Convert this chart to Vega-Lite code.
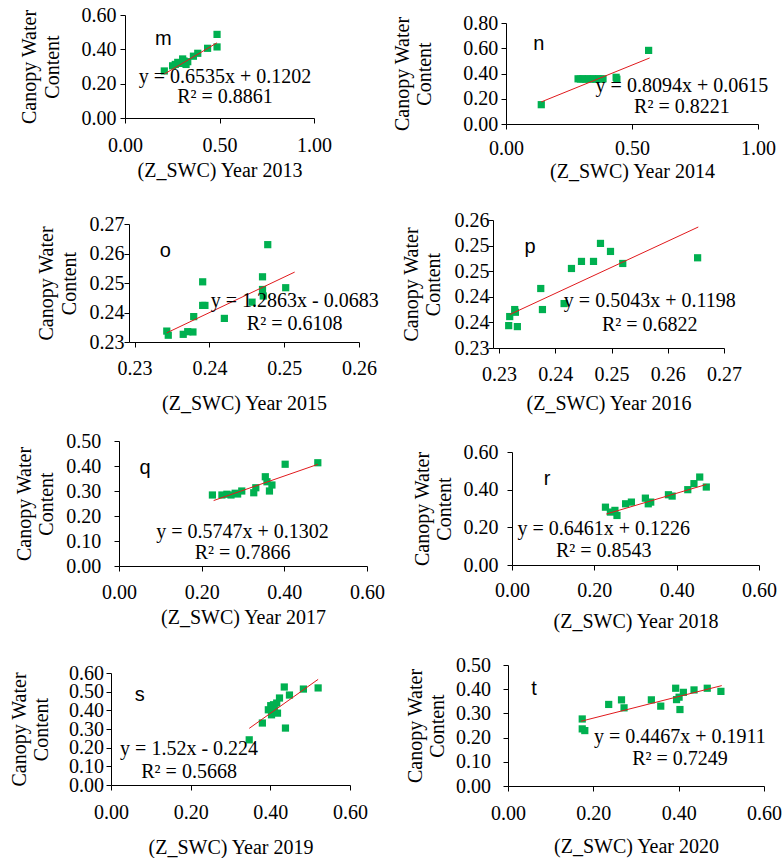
{
  "$schema": "https://vega.github.io/schema/vega-lite/v6.json",
  "autosize": {"type": "pad"},
  "padding": {"left": 0, "top": 0, "right": 0, "bottom": 0},
  "background": "white",
  "config": {
    "view": {"stroke": null},
    "style": {"guide-label": {"font": "Liberation Serif", "fontSize": 20, "fill": "#000"}, "guide-title": {"font": "Liberation Serif", "fontSize": 20, "fontWeight": "normal", "fill": "#000"}},
    "axis": {
      "grid": false, "domainColor": "#000", "tickColor": "#000", "tickSize": 5,
      "labelFont": "Liberation Serif", "labelFontSize": 20, "labelColor": "#000",
      "titleFont": "Liberation Serif", "titleFontSize": 20, "titleFontWeight": "normal", "titleColor": "#000",
      "titleLineHeight": 22.5, "labelFlush": false, "labelOverlap": false
    },
    "axisX": {"labelFont": "Liberation Serif", "titleFont": "Liberation Serif"},
    "axisY": {"labelFont": "Liberation Serif", "titleFont": "Liberation Serif"},
    "text": {"color": "#000"}
  },
  "datasets": {
    "pts": [
      {"panel":"m","x":0.208,"y":0.274},{"panel":"m","x":0.252,"y":0.304},{"panel":"m","x":0.266,"y":0.312},{"panel":"m","x":0.279,"y":0.324},{"panel":"m","x":0.292,"y":0.318},{"panel":"m","x":0.305,"y":0.344},{"panel":"m","x":0.312,"y":0.332},{"panel":"m","x":0.323,"y":0.312},{"panel":"m","x":0.332,"y":0.328},{"panel":"m","x":0.362,"y":0.36},{"panel":"m","x":0.385,"y":0.377},{"panel":"m","x":0.437,"y":0.406},{"panel":"m","x":0.487,"y":0.487},{"panel":"m","x":0.487,"y":0.414},
      {"panel":"n","x":0.14,"y":0.153},{"panel":"n","x":0.286,"y":0.358},{"panel":"n","x":0.295,"y":0.356},{"panel":"n","x":0.305,"y":0.358},{"panel":"n","x":0.315,"y":0.355},{"panel":"n","x":0.325,"y":0.358},{"panel":"n","x":0.335,"y":0.356},{"panel":"n","x":0.345,"y":0.358},{"panel":"n","x":0.355,"y":0.355},{"panel":"n","x":0.365,"y":0.358},{"panel":"n","x":0.375,"y":0.356},{"panel":"n","x":0.385,"y":0.358},{"panel":"n","x":0.437,"y":0.37},{"panel":"n","x":0.44,"y":0.355},{"panel":"n","x":0.566,"y":0.583},
      {"panel":"o","x":0.2343,"y":0.2337},{"panel":"o","x":0.2345,"y":0.2323},{"panel":"o","x":0.2365,"y":0.2326},{"panel":"o","x":0.2371,"y":0.2335},{"panel":"o","x":0.2378,"y":0.2334},{"panel":"o","x":0.2379,"y":0.2386},{"panel":"o","x":0.2391,"y":0.2504},{"panel":"o","x":0.2391,"y":0.2424},{"panel":"o","x":0.2394,"y":0.2424},{"panel":"o","x":0.242,"y":0.238},{"panel":"o","x":0.2457,"y":0.2435},{"panel":"o","x":0.2471,"y":0.2521},{"panel":"o","x":0.2471,"y":0.2478},{"panel":"o","x":0.2472,"y":0.2456},{"panel":"o","x":0.2478,"y":0.263},{"panel":"o","x":0.2502,"y":0.2484},
      {"panel":"p","x":0.23172,"y":0.23437},{"panel":"p","x":0.2319,"y":0.23614},{"panel":"p","x":0.23279,"y":0.23751},{"panel":"p","x":0.23291,"y":0.23698},{"panel":"p","x":0.23326,"y":0.23418},{"panel":"p","x":0.23742,"y":0.24162},{"panel":"p","x":0.23772,"y":0.23751},{"panel":"p","x":0.24157,"y":0.23868},{"panel":"p","x":0.24288,"y":0.24553},{"panel":"p","x":0.24466,"y":0.24691},{"panel":"p","x":0.2468,"y":0.24691},{"panel":"p","x":0.24804,"y":0.25043},{"panel":"p","x":0.24982,"y":0.24886},{"panel":"p","x":0.252,"y":0.24651},{"panel":"p","x":0.26531,"y":0.24762},
      {"panel":"q","x":0.226,"y":0.284},{"panel":"q","x":0.249,"y":0.284},{"panel":"q","x":0.261,"y":0.287},{"panel":"q","x":0.271,"y":0.284},{"panel":"q","x":0.281,"y":0.291},{"panel":"q","x":0.287,"y":0.288},{"panel":"q","x":0.297,"y":0.3},{"panel":"q","x":0.326,"y":0.293},{"panel":"q","x":0.331,"y":0.313},{"panel":"q","x":0.354,"y":0.357},{"panel":"q","x":0.358,"y":0.337},{"panel":"q","x":0.364,"y":0.3},{"panel":"q","x":0.37,"y":0.324},{"panel":"q","x":0.402,"y":0.407},{"panel":"q","x":0.481,"y":0.413},
      {"panel":"r","x":0.227,"y":0.307},{"panel":"r","x":0.239,"y":0.281},{"panel":"r","x":0.25,"y":0.29},{"panel":"r","x":0.255,"y":0.263},{"panel":"r","x":0.276,"y":0.325},{"panel":"r","x":0.29,"y":0.334},{"panel":"r","x":0.324,"y":0.355},{"panel":"r","x":0.331,"y":0.325},{"panel":"r","x":0.337,"y":0.334},{"panel":"r","x":0.38,"y":0.373},{"panel":"r","x":0.389,"y":0.366},{"panel":"r","x":0.427,"y":0.4},{"panel":"r","x":0.442,"y":0.432},{"panel":"r","x":0.456,"y":0.467},{"panel":"r","x":0.472,"y":0.414},
      {"panel":"s","x":0.347,"y":0.242},{"panel":"s","x":0.38,"y":0.332},{"panel":"s","x":0.395,"y":0.403},{"panel":"s","x":0.401,"y":0.425},{"panel":"s","x":0.403,"y":0.376},{"panel":"s","x":0.408,"y":0.43},{"panel":"s","x":0.41,"y":0.41},{"panel":"s","x":0.416,"y":0.439},{"panel":"s","x":0.418,"y":0.385},{"panel":"s","x":0.423,"y":0.466},{"panel":"s","x":0.435,"y":0.525},{"panel":"s","x":0.438,"y":0.305},{"panel":"s","x":0.448,"y":0.482},{"panel":"s","x":0.483,"y":0.514},{"panel":"s","x":0.52,"y":0.52},
      {"panel":"t","x":0.174,"y":0.277},{"panel":"t","x":0.174,"y":0.236},{"panel":"t","x":0.18,"y":0.229},{"panel":"t","x":0.236,"y":0.337},{"panel":"t","x":0.266,"y":0.356},{"panel":"t","x":0.272,"y":0.323},{"panel":"t","x":0.336,"y":0.356},{"panel":"t","x":0.358,"y":0.33},{"panel":"t","x":0.393,"y":0.404},{"panel":"t","x":0.395,"y":0.357},{"panel":"t","x":0.401,"y":0.367},{"panel":"t","x":0.403,"y":0.316},{"panel":"t","x":0.411,"y":0.387},{"panel":"t","x":0.436,"y":0.397},{"panel":"t","x":0.467,"y":0.404},{"panel":"t","x":0.499,"y":0.391}
    ],
    "lines": [
      {"panel":"m","x":0.208,"y":0.256},{"panel":"m","x":0.487,"y":0.438},
      {"panel":"n","x":0.14,"y":0.175},{"panel":"n","x":0.57,"y":0.523},
      {"panel":"o","x":0.2343,"y":0.2331},{"panel":"o","x":0.2514,"y":0.2537},
      {"panel":"p","x":0.2319,"y":0.23653},{"panel":"p","x":0.26543,"y":0.25363},
      {"panel":"q","x":0.229,"y":0.2618},{"panel":"q","x":0.481,"y":0.4066},
      {"panel":"r","x":0.229,"y":0.2706},{"panel":"r","x":0.472,"y":0.4276},
      {"panel":"s","x":0.347,"y":0.3034},{"panel":"s","x":0.52,"y":0.566},
      {"panel":"t","x":0.171,"y":0.2675},{"panel":"t","x":0.501,"y":0.4149}
    ],
    "ann": [
      {"panel":"m","kind":"eq","x":0.529,"y":0.2416,"label":"y = 0.6535x + 0.1202"},{"panel":"m","kind":"eq","x":0.529,"y":0.125,"label":"R² = 0.8861"},{"panel":"m","kind":"letter","x":0.203,"y":0.459,"label":"m"},
      {"panel":"n","kind":"eq","x":0.698,"y":0.304,"label":"y = 0.8094x + 0.0615"},{"panel":"n","kind":"eq","x":0.698,"y":0.138,"label":"R² = 0.8221"},{"panel":"n","kind":"letter","x":0.13,"y":0.636,"label":"n"},
      {"panel":"o","kind":"eq","x":0.2514,"y":0.2439,"label":"y = 1.2863x - 0.0683"},{"panel":"o","kind":"eq","x":0.2514,"y":0.236,"label":"R² = 0.6108"},{"panel":"o","kind":"letter","x":0.2341,"y":0.261,"label":"o"},
      {"panel":"p","kind":"eq","x":0.2568,"y":0.23914,"label":"y = 0.5043x + 0.1198"},{"panel":"p","kind":"eq","x":0.2568,"y":0.23457,"label":"R² = 0.6822"},{"panel":"p","kind":"letter","x":0.2355,"y":0.2497,"label":"p"},
      {"panel":"q","kind":"eq","x":0.299,"y":0.137,"label":"y = 0.5747x + 0.1302"},{"panel":"q","kind":"eq","x":0.299,"y":0.051,"label":"R² = 0.7866"},{"panel":"q","kind":"letter","x":0.063,"y":0.391,"label":"q"},
      {"panel":"r","kind":"eq","x":0.223,"y":0.192,"label":"y = 0.6461x + 0.1226"},{"panel":"r","kind":"eq","x":0.223,"y":0.076,"label":"R² = 0.8543"},{"panel":"r","kind":"letter","x":0.085,"y":0.455,"label":"r"},
      {"panel":"s","kind":"eq","x":0.196,"y":0.192,"label":"y = 1.52x - 0.224"},{"panel":"s","kind":"eq","x":0.196,"y":0.072,"label":"R² = 0.5668"},{"panel":"s","kind":"letter","x":0.072,"y":0.484,"label":"s"},
      {"panel":"t","kind":"eq","x":0.403,"y":0.202,"label":"y = 0.4467x + 0.1911"},{"panel":"t","kind":"eq","x":0.403,"y":0.113,"label":"R² = 0.7249"},{"panel":"t","kind":"letter","x":0.061,"y":0.401,"label":"t"}
    ],
    "none": []
  },
  "spacing": 0,
  "vconcat": [
    {"spacing": 0, "hconcat": [
      {"width": 18.7, "height": 1, "data": {"name": "none"}, "mark": "point", "view": {"fill": "transparent", "stroke": null}},
      {"spacing": 0, "vconcat": [
        {"width": 1, "height": 5, "data": {"name": "none"}, "mark": "point", "view": {"fill": "transparent", "stroke": null}},
        {"width": 189, "height": 103,
         "encoding": {
           "x": {"field": "x", "type": "quantitative", "scale": {"domain": [0, 1], "nice": false, "zero": false}, "axis": {"values": [0, 0.5, 1], "format": ".2f", "title": "(Z_SWC) Year 2013", "labelPadding": 12.5, "titlePadding": 5}},
           "y": {"field": "y", "type": "quantitative", "scale": {"domain": [0, 0.6], "nice": false, "zero": false}, "axis": {"values": [0, 0.2, 0.4, 0.6], "format": ".2f", "title": ["Canopy Water", "Content"], "labelPadding": 4, "titlePadding": 18.8}}
         },
         "layer": [
           {"data": {"name": "pts"}, "transform": [{"filter": "datum.panel === 'm'"}], "mark": {"type": "square", "size": 52, "color": "#00B050", "opacity": 1}},
           {"data": {"name": "lines"}, "transform": [{"filter": "datum.panel === 'm'"}], "mark": {"type": "line", "color": "#E0191C", "strokeWidth": 1}},
           {"data": {"name": "ann"}, "transform": [{"filter": "datum.panel === 'm' && datum.kind === 'eq'"}], "mark": {"type": "text", "font": "Liberation Serif", "fontSize": 20, "baseline": "middle", "color": "#000"}, "encoding": {"text": {"field": "label"}}},
           {"data": {"name": "ann"}, "transform": [{"filter": "datum.panel === 'm' && datum.kind === 'letter'"}], "mark": {"type": "text", "font": "Liberation Sans", "fontSize": 20, "baseline": "middle", "color": "#000"}, "encoding": {"text": {"field": "label"}}}
         ]}
      ]},
      {"width": 59.8, "height": 1, "data": {"name": "none"}, "mark": "point", "view": {"fill": "transparent", "stroke": null}},
      {"spacing": 0, "vconcat": [
        {"width": 1, "height": 12.7, "data": {"name": "none"}, "mark": "point", "view": {"fill": "transparent", "stroke": null}},
        {"width": 252, "height": 101,
         "encoding": {
           "x": {"field": "x", "type": "quantitative", "scale": {"domain": [0, 1], "nice": false, "zero": false}, "axis": {"values": [0, 0.5, 1], "format": ".2f", "title": "(Z_SWC) Year 2014", "labelPadding": 9, "titlePadding": 3.5}},
           "y": {"field": "y", "type": "quantitative", "scale": {"domain": [0, 0.8], "nice": false, "zero": false}, "axis": {"values": [0, 0.2, 0.4, 0.6, 0.8], "format": ".2f", "title": ["Canopy Water", "Content"], "labelPadding": 3.3, "titlePadding": 28}}
         },
         "layer": [
           {"data": {"name": "pts"}, "transform": [{"filter": "datum.panel === 'n'"}], "mark": {"type": "square", "size": 52, "color": "#00B050", "opacity": 1}},
           {"data": {"name": "lines"}, "transform": [{"filter": "datum.panel === 'n'"}], "mark": {"type": "line", "color": "#E0191C", "strokeWidth": 1}},
           {"data": {"name": "ann"}, "transform": [{"filter": "datum.panel === 'n' && datum.kind === 'eq'"}], "mark": {"type": "text", "font": "Liberation Serif", "fontSize": 20, "baseline": "middle", "color": "#000"}, "encoding": {"text": {"field": "label"}}},
           {"data": {"name": "ann"}, "transform": [{"filter": "datum.panel === 'n' && datum.kind === 'letter'"}], "mark": {"type": "text", "font": "Liberation Sans", "fontSize": 20, "baseline": "middle", "color": "#000"}, "encoding": {"text": {"field": "label"}}}
         ]}
      ]}
    ]},
    {"width": 1, "height": 26.8, "data": {"name": "none"}, "mark": "point", "view": {"fill": "transparent", "stroke": null}},
    {"spacing": 0, "hconcat": [
      {"width": 35.3, "height": 1, "data": {"name": "none"}, "mark": "point", "view": {"fill": "transparent", "stroke": null}},
      {"spacing": 0, "vconcat": [
        {"width": 1, "height": 4.7, "data": {"name": "none"}, "mark": "point", "view": {"fill": "transparent", "stroke": null}},
        {"width": 230, "height": 118,
         "encoding": {
           "x": {"field": "x", "type": "quantitative", "scale": {"domain": [0.22925, 0.26], "nice": false, "zero": false}, "axis": {"values": [0.23, 0.24, 0.25, 0.26], "format": ".2f", "title": "(Z_SWC)  Year 2015", "labelPadding": 11, "titlePadding": 15.5}},
           "y": {"field": "y", "type": "quantitative", "scale": {"domain": [0.23, 0.27], "nice": false, "zero": false}, "axis": {"values": [0.23, 0.24, 0.25, 0.26, 0.27], "format": ".2f", "title": ["Canopy Water", "Content"], "labelPadding": 0, "titlePadding": 9.9}}
         },
         "layer": [
           {"data": {"name": "pts"}, "transform": [{"filter": "datum.panel === 'o'"}], "mark": {"type": "square", "size": 52, "color": "#00B050", "opacity": 1}},
           {"data": {"name": "lines"}, "transform": [{"filter": "datum.panel === 'o'"}], "mark": {"type": "line", "color": "#E0191C", "strokeWidth": 1}},
           {"data": {"name": "ann"}, "transform": [{"filter": "datum.panel === 'o' && datum.kind === 'eq'"}], "mark": {"type": "text", "font": "Liberation Serif", "fontSize": 20, "baseline": "middle", "color": "#000"}, "encoding": {"text": {"field": "label"}}},
           {"data": {"name": "ann"}, "transform": [{"filter": "datum.panel === 'o' && datum.kind === 'letter'"}], "mark": {"type": "text", "font": "Liberation Sans", "fontSize": 20, "baseline": "middle", "color": "#000"}, "encoding": {"text": {"field": "label"}}}
         ]}
      ]},
      {"width": 21.4, "height": 1, "data": {"name": "none"}, "mark": "point", "view": {"fill": "transparent", "stroke": null}},
      {"spacing": 0, "vconcat": [
        {"width": 1, "height": 1, "data": {"name": "none"}, "mark": "point", "view": {"fill": "transparent", "stroke": null}},
        {"width": 231, "height": 128,
         "encoding": {
           "x": {"field": "x", "type": "quantitative", "scale": {"domain": [0.22893, 0.27], "nice": false, "zero": false}, "axis": {"values": [0.23, 0.24, 0.25, 0.26, 0.27], "format": ".2f", "title": "(Z_SWC) Year 2016", "labelPadding": 11, "titlePadding": 9.8}},
           "y": {"field": "y", "type": "quantitative", "scale": {"domain": [0.23, 0.255], "nice": false, "zero": false}, "axis": {"values": [0.23, 0.235, 0.24, 0.245, 0.25, 0.255], "labelExpr": "format(datum.value + 0.0001, '.2f')", "title": ["Canopy Water", "Content"], "labelPadding": -1, "titlePadding": 10.5}}
         },
         "layer": [
           {"data": {"name": "pts"}, "transform": [{"filter": "datum.panel === 'p'"}], "mark": {"type": "square", "size": 52, "color": "#00B050", "opacity": 1}},
           {"data": {"name": "lines"}, "transform": [{"filter": "datum.panel === 'p'"}], "mark": {"type": "line", "color": "#E0191C", "strokeWidth": 1}},
           {"data": {"name": "ann"}, "transform": [{"filter": "datum.panel === 'p' && datum.kind === 'eq'"}], "mark": {"type": "text", "font": "Liberation Serif", "fontSize": 20, "baseline": "middle", "color": "#000"}, "encoding": {"text": {"field": "label"}}},
           {"data": {"name": "ann"}, "transform": [{"filter": "datum.panel === 'p' && datum.kind === 'letter'"}], "mark": {"type": "text", "font": "Liberation Sans", "fontSize": 20, "baseline": "middle", "color": "#000"}, "encoding": {"text": {"field": "label"}}}
         ]}
      ]}
    ]},
    {"width": 1, "height": 15.5, "data": {"name": "none"}, "mark": "point", "view": {"fill": "transparent", "stroke": null}},
    {"spacing": 0, "hconcat": [
      {"width": 13.7, "height": 1, "data": {"name": "none"}, "mark": "point", "view": {"fill": "transparent", "stroke": null}},
      {"spacing": 0, "vconcat": [
        {"width": 1, "height": 1, "data": {"name": "none"}, "mark": "point", "view": {"fill": "transparent", "stroke": null}},
        {"width": 248, "height": 125,
         "encoding": {
           "x": {"field": "x", "type": "quantitative", "scale": {"domain": [0, 0.6], "nice": false, "zero": false}, "axis": {"values": [0, 0.2, 0.4, 0.6], "format": ".2f", "title": "(Z_SWC) Year 2017", "labelPadding": 11.5, "titlePadding": 5}},
           "y": {"field": "y", "type": "quantitative", "scale": {"domain": [0, 0.5], "nice": false, "zero": false}, "axis": {"values": [0, 0.1, 0.2, 0.3, 0.4, 0.5], "format": ".2f", "title": ["Canopy Water", "Content"], "labelPadding": 13.3, "titlePadding": 8.8}}
         },
         "layer": [
           {"data": {"name": "pts"}, "transform": [{"filter": "datum.panel === 'q'"}], "mark": {"type": "square", "size": 52, "color": "#00B050", "opacity": 1}},
           {"data": {"name": "lines"}, "transform": [{"filter": "datum.panel === 'q'"}], "mark": {"type": "line", "color": "#E0191C", "strokeWidth": 1}},
           {"data": {"name": "ann"}, "transform": [{"filter": "datum.panel === 'q' && datum.kind === 'eq'"}], "mark": {"type": "text", "font": "Liberation Serif", "fontSize": 20, "baseline": "middle", "color": "#000"}, "encoding": {"text": {"field": "label"}}},
           {"data": {"name": "ann"}, "transform": [{"filter": "datum.panel === 'q' && datum.kind === 'letter'"}], "mark": {"type": "text", "font": "Liberation Sans", "fontSize": 20, "baseline": "middle", "color": "#000"}, "encoding": {"text": {"field": "label"}}}
         ]}
      ]},
      {"width": 26.5, "height": 1, "data": {"name": "none"}, "mark": "point", "view": {"fill": "transparent", "stroke": null}},
      {"spacing": 0, "vconcat": [
        {"width": 1, "height": 11.7, "data": {"name": "none"}, "mark": "point", "view": {"fill": "transparent", "stroke": null}},
        {"width": 247, "height": 113,
         "encoding": {
           "x": {"field": "x", "type": "quantitative", "scale": {"domain": [0, 0.6], "nice": false, "zero": false}, "axis": {"values": [0, 0.2, 0.4, 0.6], "format": ".2f", "title": "(Z_SWC) Year 2018", "labelPadding": 10, "titlePadding": 11.4}},
           "y": {"field": "y", "type": "quantitative", "scale": {"domain": [0, 0.6], "nice": false, "zero": false}, "axis": {"values": [0, 0.2, 0.4, 0.6], "format": ".2f", "title": ["Canopy Water", "Content"], "labelPadding": 9, "titlePadding": 8.2}}
         },
         "layer": [
           {"data": {"name": "pts"}, "transform": [{"filter": "datum.panel === 'r'"}], "mark": {"type": "square", "size": 52, "color": "#00B050", "opacity": 1}},
           {"data": {"name": "lines"}, "transform": [{"filter": "datum.panel === 'r'"}], "mark": {"type": "line", "color": "#E0191C", "strokeWidth": 1}},
           {"data": {"name": "ann"}, "transform": [{"filter": "datum.panel === 'r' && datum.kind === 'eq'"}], "mark": {"type": "text", "font": "Liberation Serif", "fontSize": 20, "baseline": "middle", "color": "#000"}, "encoding": {"text": {"field": "label"}}},
           {"data": {"name": "ann"}, "transform": [{"filter": "datum.panel === 'r' && datum.kind === 'letter'"}], "mark": {"type": "text", "font": "Liberation Sans", "fontSize": 20, "baseline": "middle", "color": "#000"}, "encoding": {"text": {"field": "label"}}}
         ]}
      ]}
    ]},
    {"width": 1, "height": 21.6, "data": {"name": "none"}, "mark": "point", "view": {"fill": "transparent", "stroke": null}},
    {"spacing": 0, "hconcat": [
      {"width": 8.7, "height": 1, "data": {"name": "none"}, "mark": "point", "view": {"fill": "transparent", "stroke": null}},
      {"spacing": 0, "vconcat": [
        {"width": 1, "height": 8.3, "data": {"name": "none"}, "mark": "point", "view": {"fill": "transparent", "stroke": null}},
        {"width": 239, "height": 112,
         "encoding": {
           "x": {"field": "x", "type": "quantitative", "scale": {"domain": [0, 0.6], "nice": false, "zero": false}, "axis": {"values": [0, 0.2, 0.4, 0.6], "format": ".2f", "title": "(Z_SWC) Year 2019", "labelPadding": 12.5, "titlePadding": 15}},
           "y": {"field": "y", "type": "quantitative", "scale": {"domain": [0, 0.6], "nice": false, "zero": false}, "axis": {"values": [0, 0.1, 0.2, 0.3, 0.4, 0.5, 0.6], "format": ".2f", "title": ["Canopy Water", "Content"], "labelPadding": 2.4, "titlePadding": 17}}
         },
         "layer": [
           {"data": {"name": "pts"}, "transform": [{"filter": "datum.panel === 's'"}], "mark": {"type": "square", "size": 52, "color": "#00B050", "opacity": 1}},
           {"data": {"name": "lines"}, "transform": [{"filter": "datum.panel === 's'"}], "mark": {"type": "line", "color": "#E0191C", "strokeWidth": 1}},
           {"data": {"name": "ann"}, "transform": [{"filter": "datum.panel === 's' && datum.kind === 'eq'"}], "mark": {"type": "text", "font": "Liberation Serif", "fontSize": 20, "baseline": "middle", "color": "#000"}, "encoding": {"text": {"field": "label"}}},
           {"data": {"name": "ann"}, "transform": [{"filter": "datum.panel === 's' && datum.kind === 'letter'"}], "mark": {"type": "text", "font": "Liberation Sans", "fontSize": 20, "baseline": "middle", "color": "#000"}, "encoding": {"text": {"field": "label"}}}
         ]}
      ]},
      {"width": 36.2, "height": 1, "data": {"name": "none"}, "mark": "point", "view": {"fill": "transparent", "stroke": null}},
      {"spacing": 0, "vconcat": [
        {"width": 1, "height": 1, "data": {"name": "none"}, "mark": "point", "view": {"fill": "transparent", "stroke": null}},
        {"width": 256, "height": 121,
         "encoding": {
           "x": {"field": "x", "type": "quantitative", "scale": {"domain": [0, 0.6], "nice": false, "zero": false}, "axis": {"values": [0, 0.2, 0.4, 0.6], "format": ".2f", "title": "(Z_SWC)  Year 2020", "labelPadding": 12, "titlePadding": 13}},
           "y": {"field": "y", "type": "quantitative", "scale": {"domain": [0, 0.5], "nice": false, "zero": false}, "axis": {"values": [0, 0.1, 0.2, 0.3, 0.4, 0.5], "format": ".2f", "title": ["Canopy Water", "Content"], "labelPadding": 12.4, "titlePadding": 8.1}}
         },
         "layer": [
           {"data": {"name": "pts"}, "transform": [{"filter": "datum.panel === 't'"}], "mark": {"type": "square", "size": 52, "color": "#00B050", "opacity": 1}},
           {"data": {"name": "lines"}, "transform": [{"filter": "datum.panel === 't'"}], "mark": {"type": "line", "color": "#E0191C", "strokeWidth": 1}},
           {"data": {"name": "ann"}, "transform": [{"filter": "datum.panel === 't' && datum.kind === 'eq'"}], "mark": {"type": "text", "font": "Liberation Serif", "fontSize": 20, "baseline": "middle", "color": "#000"}, "encoding": {"text": {"field": "label"}}},
           {"data": {"name": "ann"}, "transform": [{"filter": "datum.panel === 't' && datum.kind === 'letter'"}], "mark": {"type": "text", "font": "Liberation Sans", "fontSize": 20, "baseline": "middle", "color": "#000"}, "encoding": {"text": {"field": "label"}}}
         ]}
      ]}
    ]}
  ]
}
